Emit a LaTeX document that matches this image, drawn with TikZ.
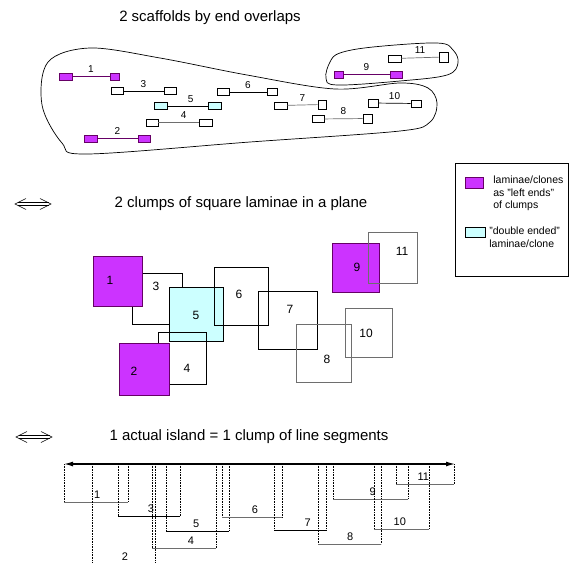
\documentclass[tikz,border=0pt]{standalone}
\usepackage{fontspec}
\setmainfont{Liberation Sans}
\usetikzlibrary{arrows.meta}
\definecolor{lamviolet}{RGB}{204, 51, 255}
\definecolor{lamcyan}{RGB}{204, 255, 255}
\definecolor{linkviolet}{RGB}{102, 0, 102}
\definecolor{linkgray}{RGB}{110, 110, 110}

\begin{document}
\begin{tikzpicture}[
  x=1pt, y=-1pt, line width=0.7pt,
  heading/.style={font=\fontsize{15}{18}\selectfont},
  cnum/.style={font=\fontsize{10}{12}\selectfont, inner sep=1pt, text=black},
  qnum/.style={font=\fontsize{12}{14}\selectfont, inner sep=1pt},
  snum/.style={font=\fontsize{11}{13}\selectfont, inner sep=1pt, text=black},
  legtext/.style={font=\fontsize{10.5}{12.5}\selectfont, align=left, inner sep=0pt},
  clone/.style={draw, fill=white, minimum width=12pt, minimum height=7pt, inner sep=0pt},
  leftend/.style={clone, fill=lamviolet, draw=linkviolet},
  twoend/.style={clone, fill=lamcyan},
  lamina/.style={draw=black},
  graylam/.style={draw=linkgray},
  leftlam/.style={draw=linkviolet, fill=lamviolet},
  twolam/.style={draw=black, fill=lamcyan},
  equiv/.style={double, double distance=2.6pt, line width=0.55pt},
  chevron/.style={line width=0.55pt, line join=miter},
  drop/.style={densely dotted, line width=0.6pt},
  axis/.style={line width=1.3pt, {Latex[length=9pt, width=5pt]}-{Latex[length=9pt, width=5pt]}},
]
\useasboundingbox (0,0) rectangle (570,562);

% ---------- scaffolds by end overlaps ----------
\node[heading] (t1) at (210,18) {2 scaffolds by end overlaps};

\draw plot[smooth cycle, tension=0.55] coordinates {(90,48) (160,58) (247,75) (335,89) (400,83) (428,88) (437,103) (430,122) (400,131) (250,142) (87,154) (62,143) (42,105) (48,62)};
\draw plot[smooth cycle, tension=0.6] coordinates {(340,53) (373,47) (437,43) (453,50) (458,63) (447,75) (400,81) (337,85) (326,78) (330,62)};

\node[leftend, minimum width=13pt] (c1a) at (65.5,76.5) {};
\node[leftend, minimum width=9pt] (c1b) at (114.5,76.5) {};
\draw[linkviolet] (c1a) -- (c1b) node[midway, above=2.5pt, cnum] (n1) {1};
\node[leftend, minimum width=13pt] (c2a) at (90.5,138.5) {};
\node[leftend] (c2b) at (144,138.5) {};
\draw[linkviolet] (c2a) -- (c2b) node[midway, above=2.5pt, cnum] (n2) {2};
\node[clone] (c3a) at (117,91) {};
\node[clone] (c3b) at (170,91) {};
\draw (c3a) -- (c3b) node[midway, above=2.5pt, cnum] (n3) {3};
\node[clone] (c4a) at (152,122.5) {};
\node[clone, minimum width=13pt] (c4b) at (205.5,122.5) {};
\draw[linkgray] (c4a) -- (c4b) node[pos=0.63, above=2.5pt, cnum] (n4) {4};
\node[twoend, minimum width=13pt] (c5a) at (160.5,106) {};
\node[twoend, minimum width=13pt] (c5b) at (214.5,106) {};
\draw (c5a) -- (c5b) node[pos=0.58, above=2.5pt, cnum] (n5) {5};
\node[clone] (c6a) at (223,92) {};
\node[clone, minimum width=10pt] (c6b) at (272,92) {};
\draw (c6a) -- (c6b) node[midway, above=2.5pt, cnum] (n6) {6};
\node[clone, minimum width=13pt] (c7a) at (280.5,105.5) {};
\node[clone, minimum width=8pt, minimum height=9pt] (c7b) at (322,104.5) {};
\draw[linkgray] (c7a) -- (c7b) node[midway, above=2.5pt, cnum] (n7) {7};
\node[clone] (c8a) at (318,119) {};
\node[clone, minimum width=9pt, minimum height=9pt] (c8b) at (367.5,118.5) {};
\draw[linkgray] (c8a) -- (c8b) node[midway, above=2.5pt, cnum] (n8) {8};
\node[leftend, minimum width=9pt] (c9a) at (338.5,74.5) {};
\node[leftend] (c9b) at (396,74.5) {};
\draw[linkviolet] (c9a) -- (c9b) node[midway, above=2.5pt, cnum] (n9) {9};
\node[clone, minimum width=10pt, minimum height=8pt] (c10a) at (373,103) {};
\node[clone, minimum width=10pt] (c10b) at (416,103.5) {};
\draw (c10a) -- (c10b) node[midway, above=2.5pt, cnum] (n10) {10};
\node[clone, minimum width=13pt] (c11a) at (394.5,58.5) {};
\node[clone, minimum width=9pt, minimum height=10pt] (c11b) at (443.5,57) {};
\draw[linkgray] (c11a) -- (c11b) node[midway, above=2.5pt, cnum] (n11) {11};

% ---------- clumps of square laminae ----------
\coordinate (eqa) at (15,204);
\coordinate (eqb) at (51,204);
\draw[equiv] ([xshift=2.5pt]eqa) -- ([xshift=-2.5pt]eqb);
\draw[chevron] ([shift={(11,-5.5)}]eqa) -- (eqa) -- ([shift={(11,5.5)}]eqa);
\draw[chevron] ([shift={(-11,-5.5)}]eqb) -- (eqb) -- ([shift={(-11,5.5)}]eqb);
\node[heading] (t2) at (241,204) {2 clumps of square laminae in a plane};

\draw[lamina] (132,273) rectangle (182,324);
\draw[leftlam] (93,256) rectangle (142,306);
\draw[twolam] (169,287) rectangle (223,341);
\draw[lamina] (214,267) rectangle (268,325);
\draw[lamina] (158,332) rectangle (206,384);
\draw[leftlam] (119,343) rectangle (169,395);
\draw[lamina] (258,291) rectangle (317,349);
\draw[graylam] (296,324) rectangle (351,382);
\draw[graylam] (345,308) rectangle (392,357);
\draw[leftlam] (332,243) rectangle (379,292);
\draw[graylam] (368,232) rectangle (417,283);

\node[qnum] (q1) at (110,280) {1};
\node[qnum] (q2) at (134,371) {2};
\node[qnum] (q3) at (156,286) {3};
\node[qnum] (q4) at (187,368) {4};
\node[qnum] (q5) at (196,315) {5};
\node[qnum] (q6) at (239,294) {6};
\node[qnum] (q7) at (290,309) {7};
\node[qnum] (q8) at (327,359) {8};
\node[qnum] (q9) at (357,267) {9};
\node[qnum] (q10) at (366,333) {10};
\node[qnum] (q11) at (402,251) {11};

% legend
\draw (455,163) rectangle (568.5,276);
\draw[leftlam] (465,177) rectangle (483,188);
\node[legtext, anchor=west] (leg1) at (493,193.5) {laminae/clones\\as "left ends"\\of clumps};
\draw[twolam] (465,227) rectangle (485,237);
\node[legtext, anchor=west] (leg2) at (489,237) {"double ended"\\laminae/clone};

% ---------- island as line segments ----------
\coordinate (eqc) at (16,437);
\coordinate (eqd) at (52,437);
\draw[equiv] ([xshift=2.5pt]eqc) -- ([xshift=-2.5pt]eqd);
\draw[chevron] ([shift={(11,-5.5)}]eqc) -- (eqc) -- ([shift={(11,5.5)}]eqc);
\draw[chevron] ([shift={(-11,-5.5)}]eqd) -- (eqd) -- ([shift={(-11,5.5)}]eqd);
\node[heading] (t3) at (249,437) {1 actual island = 1 clump of line segments};

\coordinate (axL) at (64,464);
\coordinate (axR) at (455,464);
\draw[axis] (axL) -- (axR);

\foreach \n/\a/\b/\y/\p/\c in {1/64/128/502/0.52/linkgray, 3/118/180/516/0.53/black, 4/152/216/548/0.61/linkgray, 5/166/229/531/0.48/black, 6/222/282/517/0.55/linkgray, 7/274/326/530/0.65/black, 8/318/381/544/0.51/linkgray, 9/333/408/499/0.53/linkgray, 10/374/429/529/0.47/linkgray, 11/396/454/484/0.47/linkgray}{
  \draw[drop] (\a,464) -- (\a,\y);
  \draw[drop] (\b,464) -- (\b,\y);
  \draw[\c] (\a,\y) -- (\b,\y) node[pos=\p, above=2.5pt, snum] (s\n) {\n};
}
\draw[drop] (92,464) -- (92,562);
\draw[drop] (155,464) -- (155,562);
\node[snum] (s2) at (125,557) {2};
\end{tikzpicture}
\end{document}
